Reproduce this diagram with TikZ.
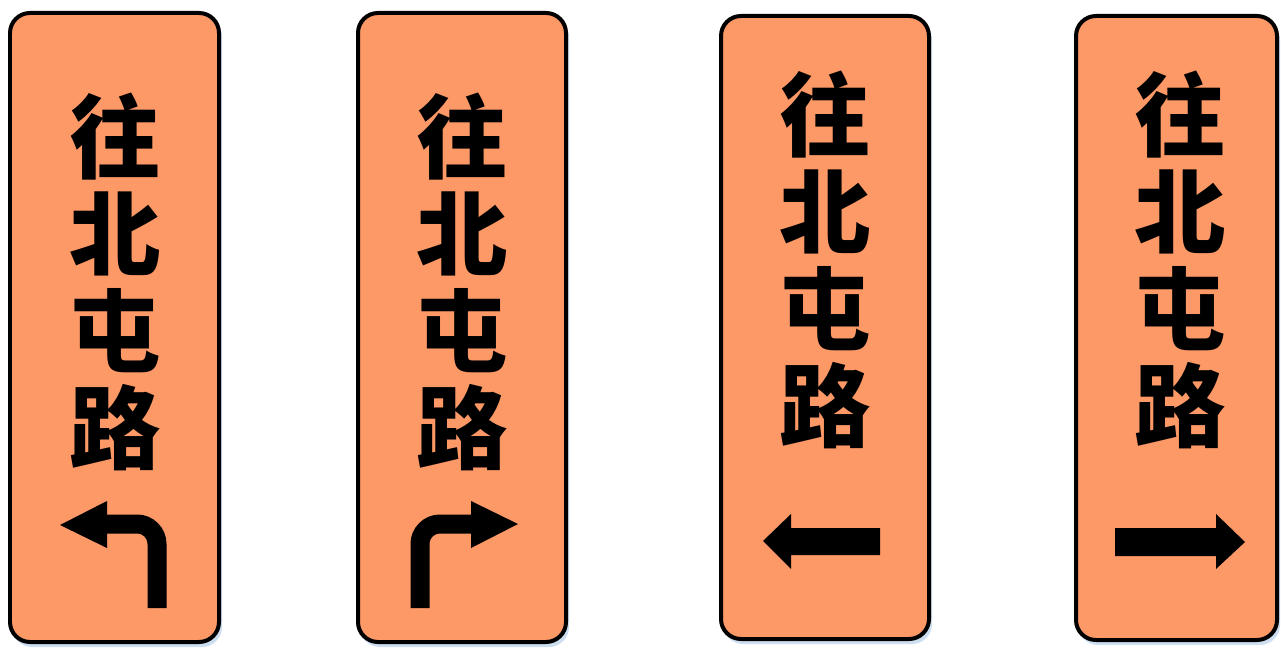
\documentclass[tikz,border=0pt]{standalone}
\usepackage{fontspec}
\usepackage{tikz}
\newfontfamily\cjk{Noto Sans CJK SC}
\definecolor{signorange}{RGB}{253,153,102}
\definecolor{shadowblue}{RGB}{205,222,240}

\begin{document}
\begin{tikzpicture}[x=0.02cm,y=-0.02cm,
            signbox/.style={draw=black,line width=0.08cm,fill=signorange,rounded corners=0.4cm},
            glyph/.style={font=\cjk\bfseries\fontsize{52}{52}\selectfont,inner sep=0pt},
            shaft/.style={line width=0.38cm,rounded corners=0.4cm}]
            \useasboundingbox (0,0) rectangle (1281,652);
            \newcommand{\sgn}[4]{
                \fill[shadowblue,rounded corners=0.4cm] (#1+2,#2+4) rectangle (#3+3,#4+5);
                \draw[signbox] (#1,#2) rectangle (#3,#4)
            }
            \newcommand{\road}[3]{
                \foreach \ch [count=\i] in {往,北,屯,路}
                    \node[glyph] (#1\i) at (#2,{#3+97*(\i-1)}) {\ch};
            }

            \sgn{10}{13}{219}{642};
            \sgn{358}{13}{566}{642};
            \sgn{721}{16}{929}{639};
            \sgn{1076}{16}{1277}{640};

            \road{a}{115}{137}
            \road{b}{462}{137}
            \road{c}{825}{115}
            \road{d}{1180}{115}

            % turn arrows
            \draw[shaft] (157,608) -- (157,524) -- (106,524);
            \fill (60,525) -- (107,501) -- (107,548) -- cycle;
            \draw[shaft] (420,608) -- (420,524) -- (472,524);
            \fill (518,524) -- (471,501) -- (471,548) -- cycle;
            % straight arrows
            \fill (763,541) -- (791,514) -- (791,528) -- (880,528) -- (880,555) -- (791,555) -- (791,569) -- cycle;
            \fill (1245,542) -- (1216,514) -- (1216,528) -- (1115,528) -- (1115,556) -- (1216,556) -- (1216,569) -- cycle;
        \end{tikzpicture}
\end{document}
